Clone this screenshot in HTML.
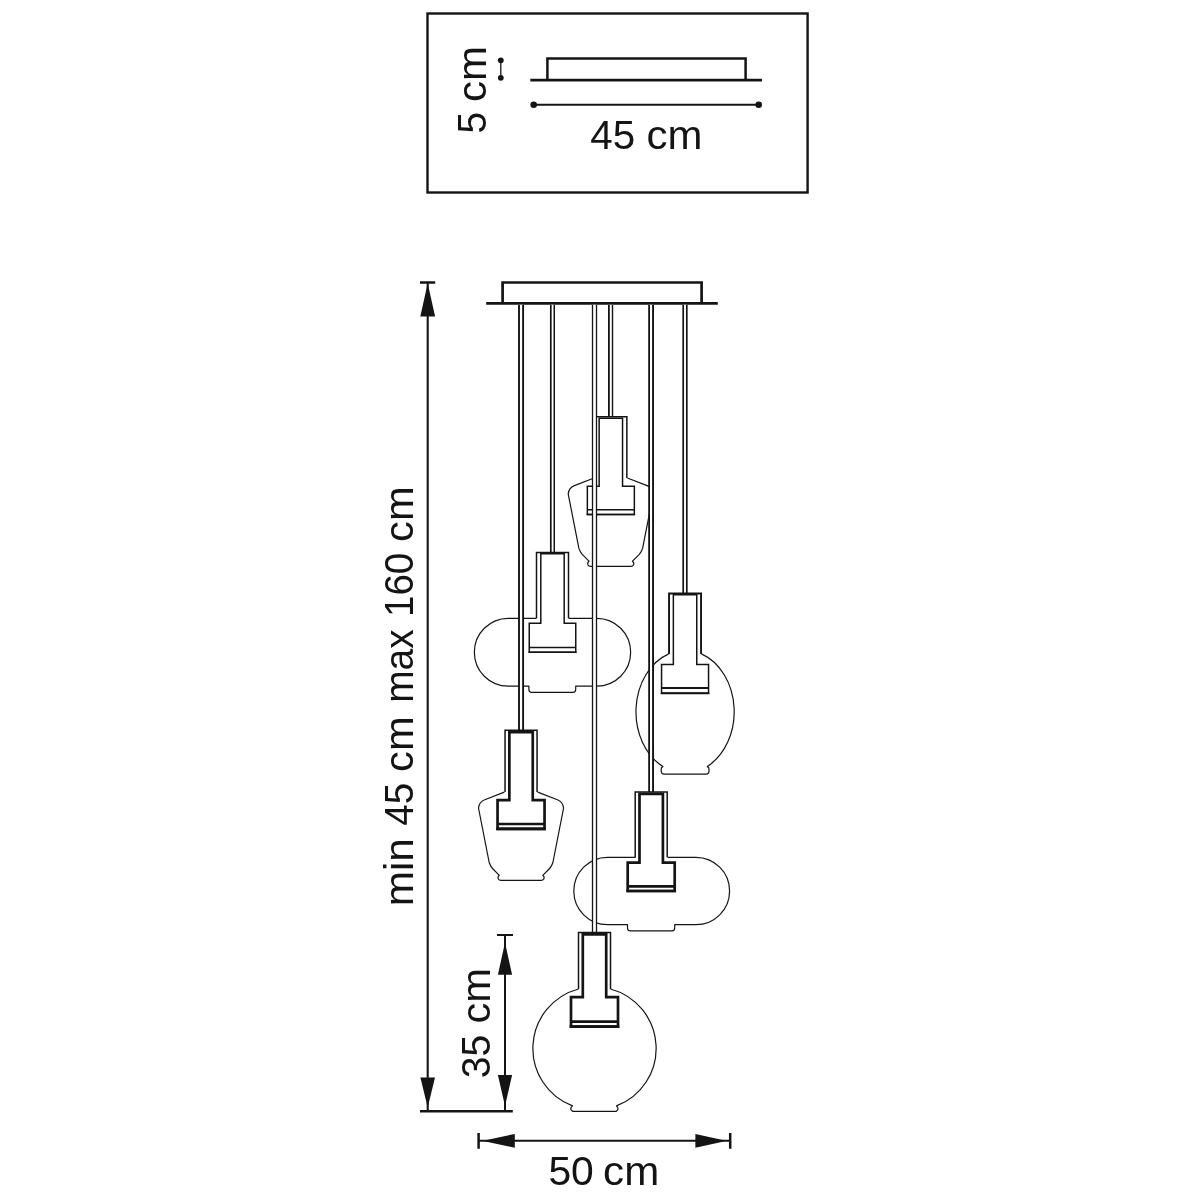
<!DOCTYPE html>
<html><head><meta charset="utf-8"><title>Pendant lamp dimensions</title>
<style>
html,body{margin:0;padding:0;background:#fff;}
body{width:1200px;height:1200px;overflow:hidden;font-family:"Liberation Sans",sans-serif;}
svg{display:block}
text{font-family:"Liberation Sans",sans-serif;fill:#141414;}
svg{filter:grayscale(1);}
</style></head><body>
<svg width="1200" height="1200" viewBox="0 0 1200 1200">
<rect width="1200" height="1200" fill="#fff"/>
<rect x="427.5" y="13.5" width="380.1" height="179" fill="none" stroke="#141414" stroke-width="2.4"/>
<path d="M547.4 80.2V58.4H745.6V80.2" fill="none" stroke="#141414" stroke-width="2.5"/>
<path d="M530.3 80.2H762" stroke="#141414" stroke-width="2.8"/>
<path d="M533.7 104.7H758.7" stroke="#141414" stroke-width="1.9"/>
<circle cx="533.7" cy="104.7" r="3.3" fill="#141414"/><circle cx="758.7" cy="104.7" r="3.3" fill="#141414"/>
<path d="M500.8 60.3V77.8" stroke="#141414" stroke-width="1.3"/>
<circle cx="500.8" cy="60.3" r="2.9" fill="#141414"/><circle cx="500.8" cy="77.8" r="2.9" fill="#141414"/>
<text x="590.21" y="148.7" font-size="41" textLength="44.95" lengthAdjust="spacingAndGlyphs">45</text>
<text x="646.53" y="148.7" font-size="41" textLength="55.96" lengthAdjust="spacingAndGlyphs">cm</text>
<text x="548.38" y="1185.3" font-size="41" textLength="45.41" lengthAdjust="spacingAndGlyphs">50</text>
<text x="603.08" y="1185.3" font-size="41" textLength="56.12" lengthAdjust="spacingAndGlyphs">cm</text>
<text transform="translate(486.0 133.54) rotate(-90)" font-size="41" textLength="21.69" lengthAdjust="spacingAndGlyphs">5</text>
<text transform="translate(486.0 101.90) rotate(-90)" font-size="41" textLength="55.98" lengthAdjust="spacingAndGlyphs">cm</text>
<text transform="translate(489.8 1078.27) rotate(-90)" font-size="41" textLength="43.57" lengthAdjust="spacingAndGlyphs">35</text>
<text transform="translate(489.8 1023.51) rotate(-90)" font-size="41" textLength="55.38" lengthAdjust="spacingAndGlyphs">cm</text>
<text transform="translate(412.8 906.21) rotate(-90)" font-size="41" textLength="68.05" lengthAdjust="spacingAndGlyphs">min</text>
<text transform="translate(412.8 825.76) rotate(-90)" font-size="41" textLength="43.02" lengthAdjust="spacingAndGlyphs">45</text>
<text transform="translate(412.8 771.90) rotate(-90)" font-size="41" textLength="55.49" lengthAdjust="spacingAndGlyphs">cm</text>
<text transform="translate(412.8 702.84) rotate(-90)" font-size="41" textLength="73.56" lengthAdjust="spacingAndGlyphs">max</text>
<text transform="translate(412.8 616.97) rotate(-90)" font-size="41" textLength="64.27" lengthAdjust="spacingAndGlyphs">160</text>
<text transform="translate(412.8 541.90) rotate(-90)" font-size="41" textLength="55.49" lengthAdjust="spacingAndGlyphs">cm</text>
<path d="M427.7 283V1111" stroke="#141414" stroke-width="2.1"/>
<path d="M420 282.5H435.2" stroke="#141414" stroke-width="2.5"/>
<path d="M427.09999999999997 286L420.3 316.6H435.09999999999997L428.3 286Z" fill="#141414"/>
<path d="M427.09999999999997 1105L420.4 1077.5H435.0L428.3 1105Z" fill="#141414"/>
<path d="M420 1111.3H512.8" stroke="#141414" stroke-width="2.6"/>
<path d="M505 935V1111" stroke="#141414" stroke-width="2"/>
<path d="M497 935H513" stroke="#141414" stroke-width="2"/>
<path d="M504.4 945.2L497.9 974.7H512.1L505.6 945.2Z" fill="#141414"/>
<path d="M504.4 1103.5L497.9 1075H512.1L505.6 1103.5Z" fill="#141414"/>
<path d="M478.5 1140.8H730.2" stroke="#141414" stroke-width="2.1"/>
<path d="M478.6 1133V1148.8 M730.2 1133V1148.8" stroke="#141414" stroke-width="2.5"/>
<path d="M485.5 1140.2L514.8 1133.8999999999999V1147.7L485.5 1141.3999999999999Z" fill="#141414"/>
<path d="M723.8 1140.2L695.4 1133.8999999999999V1147.7L723.8 1141.3999999999999Z" fill="#141414"/>
<path d="M502.6 303.4V282.5H701.6V303.4" fill="none" stroke="#141414" stroke-width="2.7"/>
<path d="M486.2 303.4H717.8" stroke="#141414" stroke-width="2.8"/>
<rect x="608.90" y="304.8" width="3.60" height="112.00" fill="#fff"/><path d="M608.90 304.8V416.8" stroke="#141414" stroke-width="1.8" fill="none"/><path d="M612.50 304.8V416.8" stroke="#141414" stroke-width="1.4" fill="none"/>
<path transform="translate(89.70 -314.10)" d="M504.4 792.1 L484.7 799.7 Q479.0 802.0 478.5 808.0 L489.2 862.5 Q490.3 866 492.5 868.5 L499.3 875.3 Q497.3 877 498.3 879 Q499 880.4 501 880.4 H541.1 Q543.1 880.4 543.8 879 Q544.8 877 542.8 875.3 L549.6 868.5 Q551.8 866 552.9 862.5 L563.6 808 Q563.1 802 557.4 799.7 L537.7 792.1" fill="#fff" stroke="#141414" stroke-width="1.2" stroke-linejoin="round"/>
<path d="M594.85 478.00V416.80H626.85V478.00" fill="#fff" stroke="#141414" stroke-width="1.5" stroke-linejoin="miter"/><path d="M599.15 418.15H622.55V486.30H634.35V514.50H587.35V486.30H599.15Z" fill="#fff" stroke="#141414" stroke-width="1.5" stroke-linejoin="miter"/><path d="M586.60 514.50H635.10 M587.35 509.80H634.35" stroke="#141414" stroke-width="1.5" fill="none"/>
<rect x="550.80" y="304.8" width="3.45" height="247.70" fill="#fff"/><path d="M550.80 304.8V552.5" stroke="#141414" stroke-width="1.7" fill="none"/><path d="M554.25 304.8V552.5" stroke="#141414" stroke-width="1.5" fill="none"/>
<path d="M536.5 618.3 H508.3 A33.95 33.95 0 0 0 508.3 686.2 H528.9 V689.5 Q528.9 692.3 531.7 692.3 H572.9 Q575.7 692.3 575.7 689.5 V686.2 H596.7 A33.95 33.95 0 0 0 596.7 618.3 H568.5" fill="#fff" stroke="#141414" stroke-width="1.2" stroke-linejoin="round"/>
<path d="M536.50 618.30V552.50H568.50V618.30" fill="#fff" stroke="#141414" stroke-width="1.5" stroke-linejoin="miter"/><path d="M540.80 553.85H564.20V623.30H575.75V652.20H529.25V623.30H540.80Z" fill="#fff" stroke="#141414" stroke-width="1.5" stroke-linejoin="miter"/><path d="M528.50 652.20H576.50 M529.25 647.50H575.75" stroke="#141414" stroke-width="1.5" fill="none"/>
<rect x="683.20" y="304.8" width="3.60" height="288.70" fill="#fff"/><path d="M683.20 304.8V593.5" stroke="#141414" stroke-width="1.7" fill="none"/><path d="M686.80 304.8V593.5" stroke="#141414" stroke-width="1.7" fill="none"/>
<path d="M668.7 653.9 A49.5 61.5 0 0 0 662.9 766.5 L661.5 767.8 Q661.1 769 661.2 771 Q661.3 774.1 664 774.1 H706.2 Q708.9 774.1 709 771 Q709.1 769 708.7 767.8 L707.3 766.5 A49.5 61.5 0 0 0 701.4 653.9" fill="#fff" stroke="#141414" stroke-width="1.2" stroke-linejoin="round"/>
<path d="M669.05 653.90V593.50H701.05V653.90" fill="#fff" stroke="#141414" stroke-width="1.9" stroke-linejoin="miter"/><path d="M673.35 594.85H696.75V664.40H708.55V693.20H661.55V664.40H673.35Z" fill="#fff" stroke="#141414" stroke-width="1.5" stroke-linejoin="miter"/><path d="M660.80 693.20H709.30 M661.55 687.90H708.55" stroke="#141414" stroke-width="2.0" fill="none"/>
<rect x="519.00" y="304.8" width="4.10" height="425.40" fill="#fff"/><path d="M519.00 304.8V730.2" stroke="#141414" stroke-width="1.9" fill="none"/><path d="M523.10 304.8V730.2" stroke="#141414" stroke-width="1.9" fill="none"/>
<path transform="translate(0.00 0.00)" d="M504.4 792.1 L484.7 799.7 Q479.0 802.0 478.5 808.0 L489.2 862.5 Q490.3 866 492.5 868.5 L499.3 875.3 Q497.3 877 498.3 879 Q499 880.4 501 880.4 H541.1 Q543.1 880.4 543.8 879 Q544.8 877 542.8 875.3 L549.6 868.5 Q551.8 866 552.9 862.5 L563.6 808 Q563.1 802 557.4 799.7 L537.7 792.1" fill="#fff" stroke="#141414" stroke-width="1.2" stroke-linejoin="round"/>
<path d="M505.05 792.10V730.20H537.05V792.10" fill="#fff" stroke="#141414" stroke-width="1.5" stroke-linejoin="miter"/><path d="M509.35 732.15H532.75V800.10H544.55V828.80H497.55V800.10H509.35Z" fill="#fff" stroke="#141414" stroke-width="2.7" stroke-linejoin="miter"/><path d="M496.20 828.80H545.90 M497.55 824.00H544.55" stroke="#141414" stroke-width="2.7" fill="none"/>
<rect x="649.10" y="304.8" width="3.95" height="487.10" fill="#fff"/><path d="M649.10 304.8V791.9" stroke="#141414" stroke-width="1.8" fill="none"/><path d="M653.05 304.8V791.9" stroke="#141414" stroke-width="1.9" fill="none"/>
<path d="M635.8 857.3 H607.5 A33.7 33.7 0 0 0 607.5 924.7 H627.5 V928 Q627.5 930.8 630.3 930.8 H671.9 Q674.7 930.8 674.7 928 V924.7 H695.9 A33.7 33.7 0 0 0 695.9 857.3 H667.5" fill="#fff" stroke="#141414" stroke-width="1.2" stroke-linejoin="round"/>
<path d="M635.20 857.30V791.90H667.20V857.30" fill="#fff" stroke="#141414" stroke-width="1.5" stroke-linejoin="miter"/><path d="M639.50 793.85H662.90V862.70H674.70V891.00H627.70V862.70H639.50Z" fill="#fff" stroke="#141414" stroke-width="2.7" stroke-linejoin="miter"/><path d="M626.35 891.00H676.05 M627.70 886.40H674.70" stroke="#141414" stroke-width="2.7" fill="none"/>
<rect x="592.50" y="304.8" width="4.00" height="627.70" fill="#fff"/><path d="M592.50 304.8V932.5" stroke="#141414" stroke-width="1.3" fill="none"/><path d="M596.50 304.8V932.5" stroke="#141414" stroke-width="1.3" fill="none"/>
<path d="M578.5 989 A61.5 61.5 0 0 0 572.5 1105.9 L571.2 1107.3 Q570.4 1109 571.3 1110 L572.6 1111.3 H616.2 L617.5 1110 Q618.4 1109 617.6 1107.3 L616.5 1105.9 A61.5 61.5 0 0 0 610.5 989" fill="#fff" stroke="#141414" stroke-width="1.2" stroke-linejoin="round"/>
<path d="M578.50 989.00V932.50H610.50V989.00" fill="#fff" stroke="#141414" stroke-width="1.5" stroke-linejoin="miter"/><path d="M582.80 934.45H606.20V997.10H618.00V1026.60H571.00V997.10H582.80Z" fill="#fff" stroke="#141414" stroke-width="2.7" stroke-linejoin="miter"/><path d="M569.65 1026.60H619.35 M571.00 1021.60H618.00" stroke="#141414" stroke-width="2.7" fill="none"/>
</svg>
</body></html>
